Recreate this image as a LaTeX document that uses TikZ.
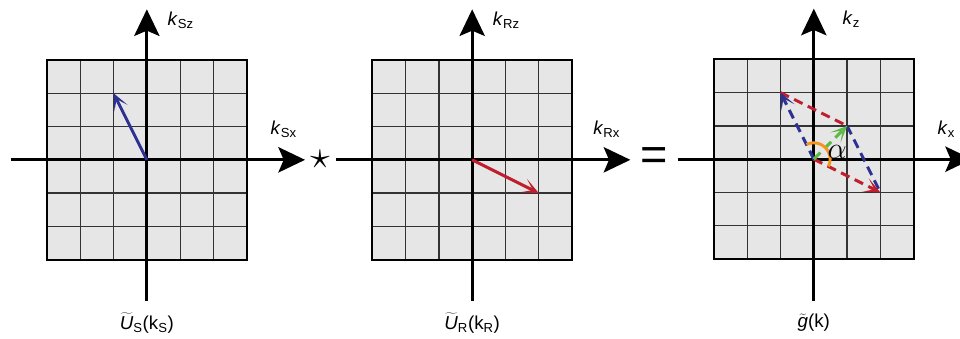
\documentclass[tikz,border=0pt]{standalone}
\usepackage{fontspec}
\setmainfont{Liberation Sans}
\usetikzlibrary{arrows.meta,positioning,calc}
\definecolor{vecblue}{HTML}{2E3192}
\definecolor{vecred}{HTML}{BE1E2D}
\definecolor{vecgreen}{HTML}{5DB947}
\definecolor{angorange}{HTML}{F7941D}
\definecolor{cellgray}{HTML}{E6E6E6}
\newcommand{\klab}[1]{\textit{k}\textsubscript{#1}}

\begin{document}
\begin{tikzpicture}[font=\fontsize{16}{18}\selectfont]
\tikzset{
 cellfill/.style={fill=cellgray},
 gridline/.style={draw=black!80,line width=1.1pt},
 gridframe/.style={draw=black,line width=2pt},
 axis/.style={-{Stealth[length=8mm,width=7.6mm,inset=1.6mm]},line width=2.4pt},
 vec/.style={-{Stealth[length=5mm,width=4.4mm,inset=3mm]},line width=2.5pt},
 dvec/.style={vec,dash pattern=on 8pt off 5pt},
 dline/.style={line width=2.5pt,dash pattern=on 8pt off 5pt}
}
\clip (0,0) rectangle (28.83,10.18);
\coordinate (p1) at (4.41,5.38);
\coordinate (p2) at (14.18,5.38);
\coordinate (p3) at (24.44,5.40);
% grids and axes
\foreach \p in {p1,p2,p3}{
 \begin{scope}[shift={(\p)}]
 \fill[cellfill] (-3,-3) rectangle (3,3);
 \draw[gridline] (-3,-3) grid (3,3);
 \draw[gridframe] (-3,-3) rectangle (3,3);
 \coordinate (\p w) at (-4.08,0);
 \coordinate (\p e) at (4.75,0);
 \coordinate (\p s) at (0,-4.25);
 \coordinate (\p n) at (0,4.52);
 \end{scope}
 \draw[axis] (\p w) -- (\p e);
 \draw[axis] (\p s) -- (\p n);
}
% axis labels
\node[anchor=west] (kSz) at ($(p1)+(0.5,4.2)$) {\klab{Sz}};
\node (kSx) at ($(p1)+(4.11,0.91)$) {\klab{Sx}};
\node[anchor=west] (kRz) at ($(p2)+(0.5,4.2)$) {\klab{Rz}};
\node (kRx) at ($(p2)+(4.04,0.91)$) {\klab{Rx}};
\node[anchor=west] (kz) at ($(p3)+(0.74,4.2)$) {\klab{z}};
\node (kx) at ($(p3)+(3.98,0.91)$) {\klab{x}};
% functions
\node (US) at ($(p1)+(0,-4.9)$) {$\widetilde{\mbox{\itshape U}}$\textsubscript{S}(k\textsubscript{S})};
\node (UR) at ($(p2)+(0,-4.9)$) {$\widetilde{\mbox{\itshape U}}$\textsubscript{R}(k\textsubscript{R})};
\node (gk) at ($(p3)+(0,-4.9)$) {$\widetilde{\mbox{\itshape g}}$(k)};
\node[scale=1.35] (star) at (9.61,5.39) {\fontsize{36}{40}\selectfont$\star$};
\node (eq) at (19.64,5.39) {\fontsize{40}{44}\selectfont =};
% vectors
\coordinate (s1) at ($(p1)+(-1,2)$);
\coordinate (r2) at ($(p2)+(2,-1)$);
\coordinate (s3) at ($(p3)+(-1,2)$);
\coordinate (r3) at ($(p3)+(2,-1)$);
\coordinate (g3) at ($(p3)+(1,1)$);
\draw[vec,vecblue] (p1) -- (s1);
\draw[vec,vecred] (p2) -- (r2);
\draw[dline,vecred] (s3) -- (g3);
\draw[dline,vecblue] (g3) -- (r3);
\draw[dvec,vecred] (p3) -- (r3);
\draw[dvec,vecblue] (p3) -- (s3);
\draw[dvec,vecgreen] (p3) -- (g3);
\draw[angorange,line width=2.5pt] ($(p3)+(116.57:0.49)$) arc[start angle=116.57,end angle=-26.57,radius=0.49];
\node[scale=1.25] (al) at ($(p3)+(0.7,0.22)$) {\fontsize{20}{22}\selectfont$\alpha$};
\end{tikzpicture}
\end{document}
